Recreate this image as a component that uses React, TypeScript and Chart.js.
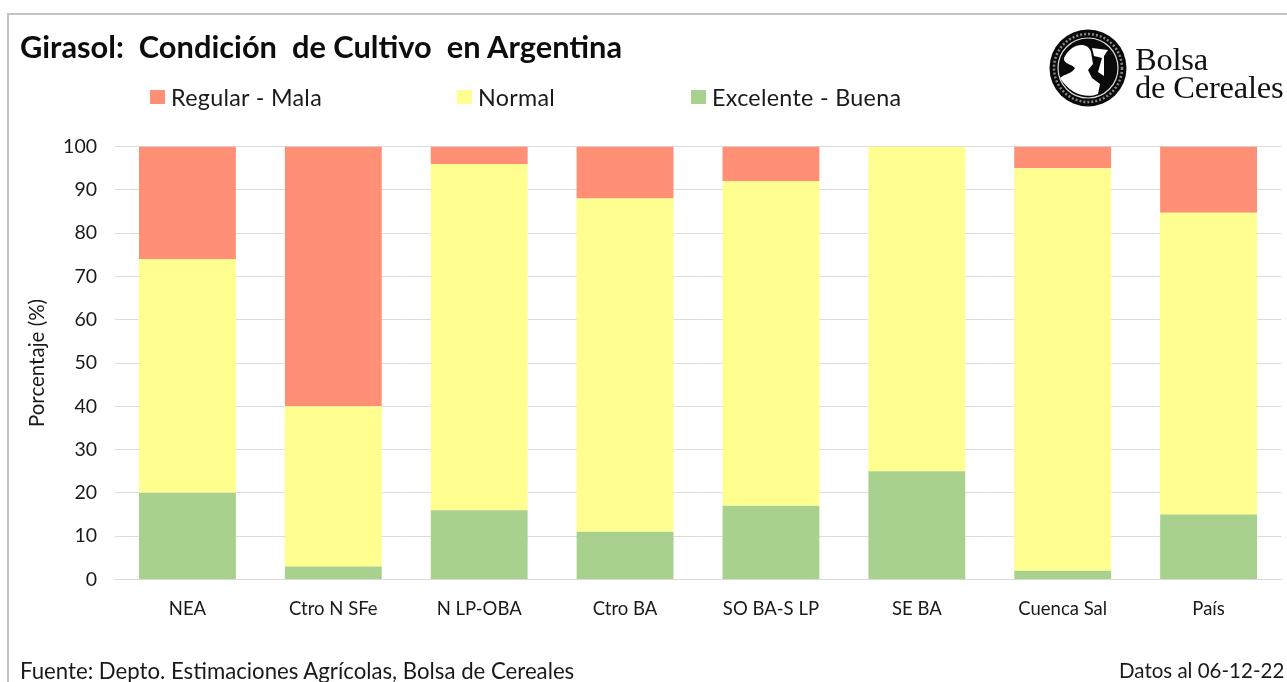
import React, { useEffect, useRef } from "react";
import { Chart, registerables } from "chart.js";

Chart.register(...registerables);

const categories = ["NEA", "Ctro N SFe", "N LP-OBA", "Ctro BA", "SO BA-S LP", "SE BA", "Cuenca Sal", "País"];
const excelenteBuena = [20, 3, 16, 11, 17, 25, 2, 15];
const normal = [54, 37, 80, 77, 75, 75, 93, 69.7];
const regularMala = [26, 60, 4, 12, 8, 0, 5, 15.3];

const titleText = "Girasol:  Condición  de Cultivo  en Argentina";
const sourceText = "Fuente: Depto. Estimaciones Agrícolas, Bolsa de Cereales";
const dateText = "Datos al 06-12-22";
const yAxisLabel = "Porcentaje (%)";

const RED = "#FF8F75";
const YELLOW = "#FFFF8F";
const GREEN = "#A9D18E";
const FONT = "Lato, 'Open Sans', sans-serif";
const TEXT = "#1a1a1a";

const legendItems = [
  { label: "Regular - Mala", color: RED, x: 150 },
  { label: "Normal", color: YELLOW, x: 457 },
  { label: "Excelente - Buena", color: GREEN, x: 691 },
];

const abs = (x: number, y: number, size: number, extra: React.CSSProperties = {}): React.CSSProperties => ({
  position: "absolute",
  left: x,
  top: y,
  fontSize: size,
  lineHeight: 1,
  fontFamily: FONT,
  color: TEXT,
  whiteSpace: "pre",
  ...extra,
});

export default function App() {
  const ref = useRef<HTMLCanvasElement>(null);

  useEffect(() => {
    document.body.style.margin = "0";
    document.body.style.overflow = "hidden";
    const chart = new Chart(ref.current!, {
      type: "bar",
      data: {
        labels: categories,
        datasets: [
          { label: "Excelente - Buena", data: excelenteBuena, backgroundColor: GREEN },
          { label: "Normal", data: normal, backgroundColor: YELLOW },
          { label: "Regular - Mala", data: regularMala, backgroundColor: RED },
        ],
      },
      options: {
        responsive: false,
        animation: false,
        layout: { padding: { left: 0, right: 5.5, top: 146.6, bottom: 0 } },
        plugins: { legend: { display: false }, title: { display: false }, tooltip: { enabled: false } },
        datasets: { bar: { categoryPercentage: 1, barPercentage: 0.664, borderWidth: 0 } },
        scales: {
          x: {
            stacked: true,
            afterFit: (s: any) => { s.height = 102.6; },
            grid: { display: false },
            border: { color: "#d9d9d9", width: 1 },
            ticks: { color: TEXT, font: { family: FONT, size: 18.5 }, padding: 11, maxRotation: 0, autoSkip: false },
          },
          y: {
            stacked: true,
            min: 0,
            max: 100,
            afterFit: (s: any) => { s.width = 114.5; },
            grid: { color: "#dcdcdc", lineWidth: 1, drawTicks: false },
            border: { display: false },
            ticks: { stepSize: 10, color: TEXT, font: { family: FONT, size: 19.5 }, padding: 17.5 },
            title: {
              display: true,
              text: yAxisLabel,
              color: TEXT,
              font: { family: FONT, size: 20.5 },
              padding: { top: 25, bottom: 0 },
            },
          },
        },
      },
    } as any);
    return () => chart.destroy();
  }, []);

  return (
    <div style={{ position: "relative", width: 1287, height: 682, background: "#fff", overflow: "hidden" }}>
      <canvas ref={ref} width={1287} height={682} style={{ position: "absolute", left: 0, top: 0, display: "block" }} />
      <div style={{ position: "absolute", left: 7, top: 13, width: 1280, height: 669, borderLeft: "2px solid #c4c4c4", borderTop: "2px solid #c4c4c4", boxSizing: "border-box" }} />
      <div style={abs(20, 32, 30.8, { fontWeight: 700, color: "#0d0d0d" })}>{titleText}</div>
      {legendItems.map((it) => (
        <div key={it.label}>
          <div style={{ position: "absolute", left: it.x, top: 90, width: 15, height: 14, background: it.color }} />
          <div style={abs(it.x + 21, 86, 23.3, { letterSpacing: 0.3 })}>{it.label}</div>
        </div>
      ))}
      <div style={abs(20, 660, 22.2)}>{sourceText}</div>
      <div style={abs(1119, 660, 20.5)}>{dateText}</div>
      <svg style={{ position: "absolute", left: 1048, top: 28 }} width={80} height={80} viewBox="0 0 80 80">
        <circle cx="40" cy="40" r="38.5" fill="#0a0a0a" />
        <circle cx="40" cy="40" r="30" fill="none" stroke="#ddd" strokeWidth="1.2" />
        <circle cx="40" cy="40" r="34" fill="none" stroke="#888" strokeWidth="2.5" strokeDasharray="2 2" />
        <path d="M16 30 C24 14 40 14 43 24 L45 36 L40 42 L44 50 L52 56 L50 66 C38 71 22 66 12 50 C16 46 24 46 27 40 C24 36 15 36 16 30 Z" fill="#fff" />
        <path d="M44 20 L60 22 L56 28 L56 48 L50 44 L54 30 L46 28 Z" fill="#fff" />
      </svg>
      <div style={abs(1135, 43, 32.5, { fontFamily: "'Liberation Serif', serif", letterSpacing: -0.2, color: "#111" })}>Bolsa</div>
      <div style={abs(1135, 71, 32.5, { fontFamily: "'Liberation Serif', serif", letterSpacing: -0.2, color: "#111" })}>de Cereales</div>
    </div>
  );
}
